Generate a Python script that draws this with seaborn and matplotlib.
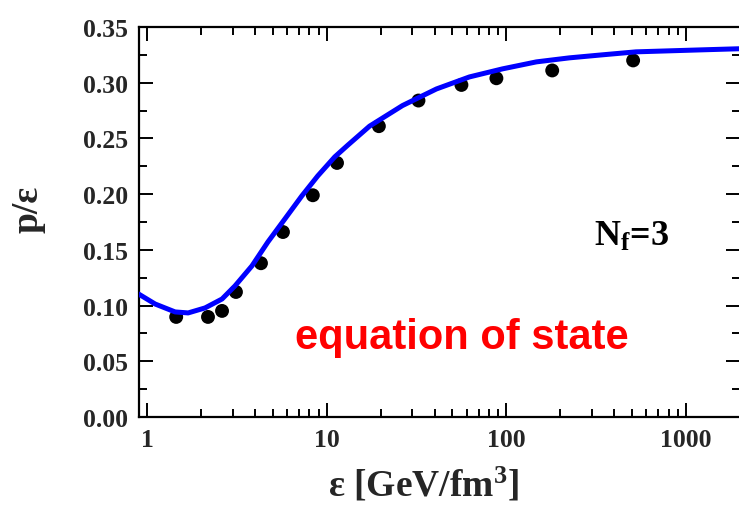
import matplotlib
matplotlib.use("Agg")
import matplotlib.pyplot as plt
import matplotlib.ticker as mticker
import seaborn as sns
import pandas as pd

sns.set_theme(style="ticks")
plt.rcParams['font.family'] = ['Liberation Serif', 'DejaVu Serif']
plt.rcParams['font.weight'] = 'bold'
plt.rcParams['mathtext.fontset'] = 'custom'
plt.rcParams['mathtext.rm'] = 'Liberation Serif:bold'
plt.rcParams['mathtext.it'] = 'Liberation Serif:bold'
plt.rcParams['mathtext.bf'] = 'Liberation Serif:bold'

# lattice points (energy density in GeV/fm^3, p/eps)
eps_pts = [1.45, 2.18, 2.61, 3.12, 4.30, 5.70, 8.36, 11.4, 19.5, 32.4, 56.2, 88, 180, 508]
ratio_pts = [0.0898, 0.0898, 0.0952, 0.1122, 0.138, 0.166, 0.199, 0.228, 0.261, 0.284,
             0.298, 0.304, 0.311, 0.320]

# model curve
eps_line = [0.895, 1.107, 1.43, 1.69, 2.10, 2.61, 3.08, 3.83, 4.70, 5.84, 7.26, 8.91,
            11.07, 13.1, 17.3, 26.4, 40.8, 62.3, 95, 147, 224, 341, 527, 805, 1228, 1897, 2000]
ratio_line = [0.1104, 0.1014, 0.0943, 0.0934, 0.0979, 0.1059, 0.1176, 0.1356, 0.1571,
              0.1777, 0.1984, 0.2164, 0.2334, 0.2440, 0.2610, 0.2795, 0.2944, 0.3052,
              0.3124, 0.3187, 0.3223, 0.3250, 0.3277, 0.3286, 0.3295, 0.3304, 0.3305]

x_ticks = [1, 10, 100, 1000]
x_labels = ["1", "10", "100", "1000"]
y_ticks = [0.00, 0.05, 0.10, 0.15, 0.20, 0.25, 0.30, 0.35]
y_labels = ["0.00", "0.05", "0.10", "0.15", "0.20", "0.25", "0.30", "0.35"]

df_line = pd.DataFrame({"eps": eps_line, "ratio": ratio_line})
df_pts = pd.DataFrame({"eps": eps_pts, "ratio": ratio_pts})

fig = plt.figure(figsize=(7.39, 5.06), dpi=100)
ax = fig.add_axes([139 / 739, 88 / 506, 601 / 739, 390 / 506])

sns.lineplot(data=df_line, x="eps", y="ratio", color="#0000ff", lw=3.6, ax=ax, zorder=3,
             solid_joinstyle="round", solid_capstyle="round")
sns.scatterplot(data=df_pts, x="eps", y="ratio", color="black", s=100, edgecolor="none",
                ax=ax, zorder=2)

ax.set_xscale("log")
ax.set_xlim(0.9, 2000)
ax.set_ylim(0, 0.35)

ax.xaxis.set_major_locator(mticker.FixedLocator(x_ticks))
ax.set_xticklabels(x_labels)
ax.xaxis.set_minor_locator(mticker.LogLocator(base=10, subs=range(2, 10), numticks=20))
ax.xaxis.set_minor_formatter(mticker.NullFormatter())
ax.set_yticks(y_ticks)
ax.set_yticklabels(y_labels)
ax.yaxis.set_minor_locator(mticker.MultipleLocator(0.025))

for s in ax.spines.values():
    s.set_linewidth(1.6)
    s.set_color("black")
ax.tick_params(which="both", direction="in", top=True, right=True, width=1.4, color="black")
ax.tick_params(which="major", length=10, labelsize=18.5, pad=8)
ax.tick_params(which="minor", length=5.5)

ax.set_xlabel(r"ε [GeV/fm$\mathregular{^3}$]", fontsize=27, fontweight="bold")
ax.set_ylabel("p/ε", fontsize=27, fontweight="bold")
ax.xaxis.set_label_coords(0.473, -0.125)
ax.yaxis.set_label_coords(-0.155, 0.536)

ax.text(0.819, 0.464, r"N$\mathregular{_f}$=3", transform=ax.transAxes, fontsize=26,
        fontweight="bold", ha="center", va="center", color="black")
ax.text(0.537, 0.205, "equation of state", transform=ax.transAxes, fontsize=30,
        fontweight="bold", ha="center", va="center", color="#ff0000",
        family="Liberation Sans")

fig.savefig("out.png", dpi=100)
